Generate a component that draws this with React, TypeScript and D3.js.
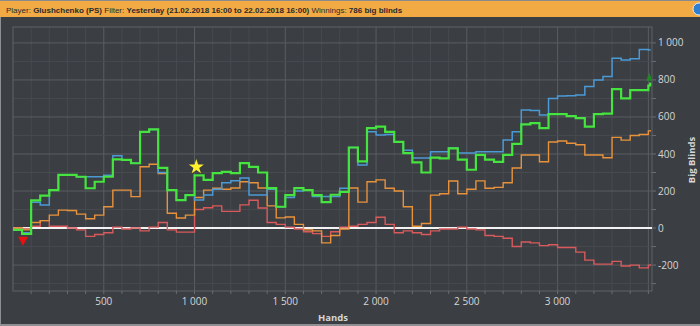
import React from "react";
import * as d3 from "d3";

const hands = [0, 50, 100, 150, 200, 250, 300, 350, 400, 450, 500, 550, 600, 650, 700, 750, 800, 850, 900, 950, 1000, 1050, 1100, 1150, 1200, 1250, 1300, 1350, 1400, 1450, 1500, 1550, 1600, 1650, 1700, 1750, 1800, 1850, 1900, 1950, 2000, 2050, 2100, 2150, 2200, 2250, 2300, 2350, 2400, 2450, 2500, 2550, 2600, 2650, 2700, 2750, 2800, 2850, 2900, 2950, 3000, 3050, 3100, 3150, 3200, 3250, 3300, 3350, 3400, 3450, 3500, 3510];

const netWon = [-10, -32, 150, 175, 205, 287, 287, 277, 215, 250, 277, 371, 368, 350, 520, 533, 325, 205, 151, 178, 285, 260, 297, 303, 297, 351, 331, 300, 216, 115, 178, 216, 205, 178, 140, 180, 195, 435, 360, 540, 548, 520, 465, 405, 355, 300, 380, 376, 430, 370, 315, 395, 370, 358, 395, 455, 560, 567, 540, 615, 615, 605, 594, 548, 615, 618, 750, 700, 745, 745, 770, 786];

const allInEv = [-10, -25, 140, 124, 205, 287, 287, 277, 277, 277, 285, 390, 368, 350, 520, 533, 300, 205, 151, 178, 151, 178, 210, 245, 255, 270, 178, 178, 210, 115, 165, 200, 205, 170, 170, 170, 215, 435, 340, 520, 503, 505, 465, 420, 378, 378, 412, 412, 432, 405, 405, 412, 412, 412, 475, 520, 638, 635, 610, 700, 713, 715, 719, 764, 800, 818, 917, 908, 915, 965, 962, 960];

const showdown = [0, -10, 30, 40, 70, 97, 95, 75, 50, 70, 115, 205, 205, 170, 331, 345, 295, 80, 54, 70, 165, 205, 215, 210, 216, 250, 245, 216, 120, 55, 60, 20, -10, -15, -80, -40, -5, 216, 140, 250, 260, 215, 200, 115, 10, 25, 178, 185, 254, 185, 210, 255, 215, 220, 245, 324, 395, 395, 358, 465, 470, 458, 450, 395, 395, 380, 490, 475, 500, 505, 525, 530];

const nonShowdown = [0, -5, 10, 40, 10, 10, 0, -10, -45, -35, -25, 5, -5, 0, -15, 5, 30, -10, -22, -22, 100, 110, 120, 90, 90, 125, 150, 108, 30, 20, 5, -5, -20, -30, -45, -20, 5, 10, 20, 30, 58, 20, -25, -15, -25, -35, -15, -5, -5, 5, -5, -10, -40, -45, -55, -100, -75, -80, -95, -90, -105, -105, -130, -173, -195, -195, -180, -205, -200, -215, -200, -195];

const yTicks = [-200, 0, 200, 400, 600, 800, 1000];
const yTickLabels = ["-200", "0", "200", "400", "600", "800", "1 000"];
const xTicks = [500, 1000, 1500, 2000, 2500, 3000];
const xTickLabels = ["500", "1 000", "1 500", "2 000", "2 500", "3 000"];

const minMarker = { h: 55, v: -68 };
const starMarker = { h: 1010, v: 330 };
const endMarker = { h: 3505, v: 812 };

const W = 700;
const H = 326;
const L = 13, R = 652, T = 27, B = 291;

export default function App() {
  const x = d3.scaleLinear().domain([0, 3520]).range([L, R]);
  const y = d3.scaleLinear().domain([-340, 1086]).range([B, T]);

  const mk = (vals: number[]) =>
    d3
      .line<number>()
      .x((_, i) => x(hands[i]))
      .y((d) => y(d))
      .curve(d3.curveStepAfter)(vals) || "";

  const vGrid = d3.range(100, 3520, 100);
  const hGrid = d3.range(-300, 1086, 100);

  const star = d3.symbol().type(d3.symbolStar).size(70)() || "";
  const triDown = "M-5,-4 L5,-4 L0,5 Z";
  const triUp = "M-3,3 L3,3 L0,-5 Z";

  const font = "'Open Sans', 'Noto Sans', sans-serif";

  return (
    <svg width={W} height={H} style={{ position: "fixed", left: 0, top: 0, background: "#3b3e43" }}>
      <rect x={0} y={0} width={W} height={H} fill="#3b3e43" />
      <rect x={0} y={0} width={W} height={1} fill="#8a8a8a" />
      <rect x={0} y={1} width={W} height={16} fill="#f2aa44" />
      <circle cx={699} cy={9} r={6} fill="#2f7fd0" stroke="#ddeeff" strokeWidth={1} />
      <text x={6} y={12.5} fontFamily="'Liberation Sans', Arial, sans-serif" fontSize={8} fill="#2b2b2b">
        <tspan>Player: </tspan>
        <tspan fontWeight="bold">Glushchenko (PS)</tspan>
        <tspan> Filter: </tspan>
        <tspan fontWeight="bold">Yesterday (21.02.2018 16:00 to 22.02.2018 16:00)</tspan>
        <tspan> Winnings: </tspan>
        <tspan fontWeight="bold">786 big blinds</tspan>
      </text>

      {/* grid */}
      <g>
        {vGrid.map((h) => (
          <line key={"v" + h} x1={x(h)} x2={x(h)} y1={T} y2={B} stroke={h % 500 === 0 ? "#5a5d62" : "#474a4f"} strokeWidth={1} />
        ))}
        {hGrid.map((v) => (
          <line key={"h" + v} x1={L} x2={R} y1={y(v)} y2={y(v)} stroke={v % 200 === 0 ? "#5a5d62" : "#474a4f"} strokeWidth={1} />
        ))}
        <rect x={L} y={T} width={R - L} height={B - T} fill="none" stroke="#606368" strokeWidth={1} />
      </g>

      {/* ticks */}
      <g stroke="#6a6d72">
        {vGrid.map((h) => (
          <line key={"tx" + h} x1={x(h)} x2={x(h)} y1={B} y2={B + 3} />
        ))}
        {hGrid.map((v) => (
          <line key={"ty" + v} x1={R} x2={R + 4} y1={y(v)} y2={y(v)} />
        ))}
      </g>

      {/* zero line */}
      <line x1={L} x2={R} y1={y(0)} y2={y(0)} stroke="#f2f2f2" strokeWidth={2} />

      {/* series */}
      <path d={mk(nonShowdown)} fill="none" stroke="#d95a5c" strokeWidth={1.4} />
      <path d={mk(showdown)} fill="none" stroke="#e8923c" strokeWidth={1.4} />
      <path d={mk(allInEv)} fill="none" stroke="#4b9ad6" strokeWidth={1.5} />
      <path d={mk(netWon)} fill="none" stroke="#45e43f" strokeWidth={2.2} />

      {/* markers */}
      <path d={triDown} transform={`translate(${x(minMarker.h)},${y(minMarker.v)})`} fill="#e81010" />
      <path d={star} transform={`translate(${x(starMarker.h)},${y(starMarker.v)})`} fill="#fff22a" />
      <path d={triUp} transform={`translate(${x(endMarker.h)},${y(endMarker.v)})`} fill="#1f8a1f" />

      {/* axis labels */}
      <g fontFamily={font} fontSize={10} fill="#d6d6d6">
        {xTicks.map((h, i) => (
          <text key={"xl" + h} x={x(h)} y={305} textAnchor="middle">{xTickLabels[i]}</text>
        ))}
        {yTicks.map((v, i) => (
          <text key={"yl" + v} x={658} y={y(v) + 3.5}>{yTickLabels[i]}</text>
        ))}
        <text x={333} y={321} textAnchor="middle" fontWeight="bold" fontSize={9.5}>Hands</text>
        <text transform={`translate(695,160) rotate(-90)`} textAnchor="middle" fontWeight="bold" fontSize={9.5}>Big Blinds</text>
      </g>
      <rect x={0} y={H - 2} width={W} height={2} fill="#8d8f92" />
      <rect x={0} y={17} width={1} height={H - 17} fill="#8d8f92" />
    </svg>
  );
}
